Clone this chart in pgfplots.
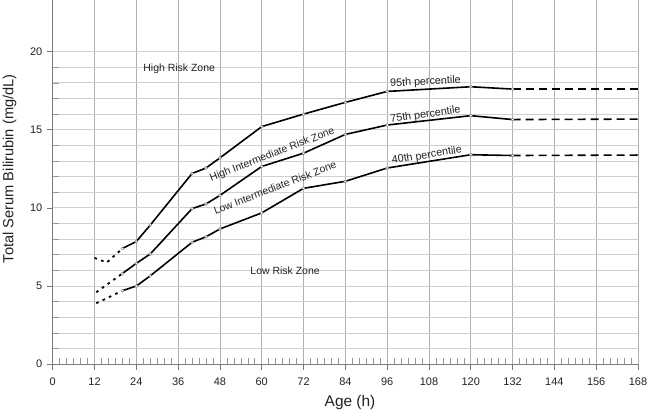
\documentclass[border=0pt]{standalone}
\usepackage{pgfplots}
\pgfplotsset{compat=1.18}
\usepackage{fontspec}
\setmainfont{Liberation Sans}
\usetikzlibrary{calc}
\definecolor{hgrid}{HTML}{D0D0D0}
\definecolor{vgrid}{HTML}{B0B0B0}
\definecolor{axc}{HTML}{7A7A7A}
\definecolor{txt}{HTML}{222222}
\begin{document}
\begin{tikzpicture}
\begin{axis}[
  name=ax,
  scale only axis, width=585bp, height=364bp,
  xmin=0, xmax=168, ymin=0, ymax=23.3,
  axis lines=left,
  axis line style={draw=axc, line width=0.9bp, -},
  xtick={0,12,...,168}, ytick={0,5,10,15,20},
  minor x tick num=5, minor y tick num=4,
  xmajorgrids, ymajorgrids, yminorgrids,
  x grid style={draw=vgrid, line width=0.8bp},
  y grid style={draw=hgrid, line width=0.8bp},
  tick align=outside,
  major tick length=6bp, minor tick length=-6bp,
  tick style={draw=axc, line width=0.7bp},
  minor tick style={draw=axc!80, line width=0.6bp},
  /pgf/number format/assume math mode=true,
  tick label style={font=\fontsize{11}{13}\selectfont, text=txt},
  xticklabel style={yshift=-4.5bp},
  yticklabel style={xshift=-1bp},
  xlabel={Age (h)}, ylabel={Total Serum Bilirubin (mg/dL)},
  xlabel style={font=\fontsize{15.5}{18}\selectfont, text=txt, at={(axis description cs:0.508,0)}, anchor=base, yshift=-42bp},
  ylabel style={font=\fontsize{14.7}{17}\selectfont, text=txt, at={(axis description cs:-0.0735,0.5365)}, anchor=center},
  clip=false,
  pctl/.style={draw=black, line width=1.6bp},
  pmark/.style={mark=*, mark size=1.5bp, mark options={solid, fill=white, draw=gray, line width=0.5bp}},
  pdot/.style={pctl, line width=1.8bp, dash pattern=on 2.6bp off 4.4bp, no marks},
  pdash/.style={pctl, dash pattern=on 8bp off 5bp, no marks},
]
% 95th percentile
\addplot[pdot] coordinates {(12,6.8) (15.5,6.5) (20,7.4)};
\addplot[pctl, pmark] coordinates {(20,7.4) (24,7.85) (28,8.9) (40,12.2) (44,12.55) (48,13.2) (60,15.2) (72,16.0) (84,16.75) (96,17.45) (120,17.75) (132,17.6)};
\addplot[pdash] coordinates {(132,17.6) (168,17.6)};
% 75th percentile
\addplot[pdot] coordinates {(12.5,4.6) (20,5.8)};
\addplot[pctl, pmark] coordinates {(20,5.8) (24,6.45) (28,7.05) (40,9.95) (44,10.25) (48,10.8) (60,12.65) (72,13.5) (84,14.7) (96,15.3) (120,15.9) (132,15.65)};
\addplot[pdash] coordinates {(132,15.65) (168,15.68)};
% 40th percentile
\addplot[pdot] coordinates {(12.5,3.9) (20,4.7)};
\addplot[pctl, pmark] coordinates {(20,4.7) (24,5.0) (28,5.65) (40,7.8) (44,8.15) (48,8.65) (60,9.68) (72,11.25) (84,11.7) (96,12.55) (120,13.4) (132,13.35)};
\addplot[pdash] coordinates {(132,13.35) (168,13.38)};
% labels
\begin{scope}[every node/.style={font=\fontsize{10.5}{12}\selectfont, text=txt, inner sep=1bp}]
\node at (axis cs:36.3,18.9) {High Risk Zone};
\node[rotate=21] at (axis cs:63.0,13.4) {High Intermediate Risk Zone};
\node[rotate=21] at (axis cs:63.8,11.3) {Low Intermediate Risk Zone};
\node at (axis cs:66.7,6.0) {Low Risk Zone};
\end{scope}
\begin{scope}[every node/.style={font=\fontsize{10.8}{13}\selectfont, text=txt, inner sep=1bp}]
\node[rotate=3] at (axis cs:107,18.05) {95th percentile};
\node[rotate=8] at (axis cs:107,15.95) {75th percentile};
\node[rotate=9] at (axis cs:107.4,13.35) {40th percentile};
\end{scope}
\end{axis}
\pgfresetboundingbox
\path ($(ax.south west)+(-52.7bp,-46bp)$) rectangle ($(ax.north east)+(12bp,0bp)$);
\end{tikzpicture}
\end{document}
